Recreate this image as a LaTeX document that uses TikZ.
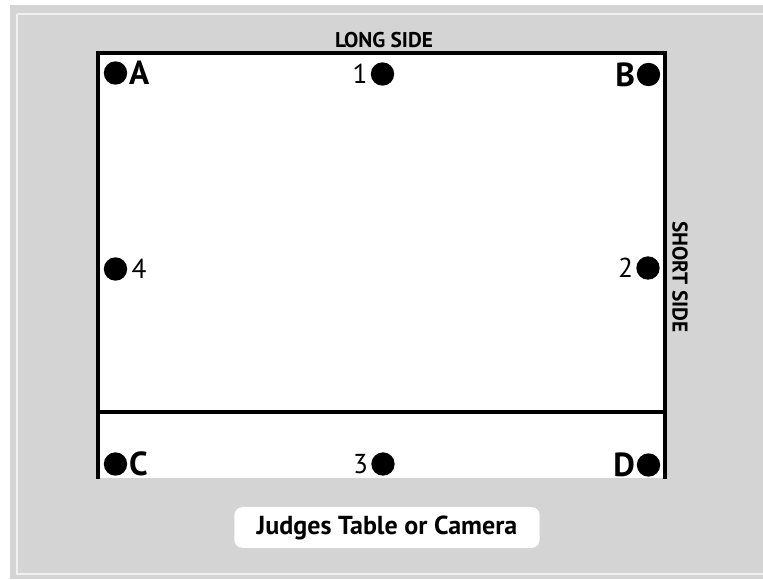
\documentclass[tikz,border=0pt]{standalone}
\usepackage{fontspec}
\setmainfont{PT Sans}
\usetikzlibrary{positioning}

\definecolor{bggray}{HTML}{D4D4D4}
\definecolor{framegray}{HTML}{F0F0F0}

\begin{document}
\begin{tikzpicture}[
  x=0.75pt, y=-0.75pt,
  spot/.style={circle, fill=black, inner sep=0pt, minimum size=17.5pt},
  corner/.style={font=\fontsize{25}{27}\selectfont\bfseries, inner sep=0pt},
  num/.style={font=\fontsize{20.5}{22}\selectfont, inner sep=0pt},
  side/.style={font=\fontsize{16}{18}\selectfont\bfseries, inner sep=0pt},
  court/.style={line width=2.3pt, draw=black}
]
\useasboundingbox (0,0) rectangle (763,579);

% backdrop and thin frame
\fill[bggray] (10,5) rectangle (763,579);
\draw[framegray, line width=1.6pt] (17,14) -- (770,14);
\draw[framegray, line width=1.6pt] (17,14) -- (17,574) -- (770,574);

% floor area
\fill[white] (98,53) rectangle (665,478);
\draw[court] (98,479) -- (98,53) -- (665,53) -- (665,479);
\draw[court] (96,412) -- (667,412);

% spots
\node[spot] (dotA) at (115.5,73) {};
\node[spot] (dot1) at (382.5,74) {};
\node[spot] (dotB) at (648.5,74.5) {};
\node[spot] (dot4) at (115.5,269) {};
\node[spot] (dot2) at (648,268) {};
\node[spot] (dotC) at (115.5,464) {};
\node[spot] (dot3) at (383,464) {};
\node[spot] (dotD) at (648.5,465) {};

% spot labels
\node[corner, right=1pt of dotA] (labA) {A};
\node[num, left=2pt of dot1]      (lab1) {1};
\node[corner, left=1pt of dotB] (labB) {B};
\node[num, right=3pt of dot4]     (lab4) {4};
\node[num, left=2pt of dot2]      (lab2) {2};
\node[corner, right=1pt of dotC] (labC) {C};
\node[num, left=2pt of dot3]      (lab3) {3};
\node[corner, left=1pt of dotD] (labD) {D};

% side names
\node[side] (longside) at (384,40) {LONG SIDE};
\node[side, rotate=-90] (shortside) at (680,277) {SHORT SIDE};

% judges
\node[fill=white, rounded corners=6pt, minimum width=229pt, minimum height=30.5pt,
  inner sep=0pt, font=\fontsize{19.5}{21}\selectfont\bfseries] (judges) at (387,527.5)
  {Judges Table or Camera};

\end{tikzpicture}
\end{document}
